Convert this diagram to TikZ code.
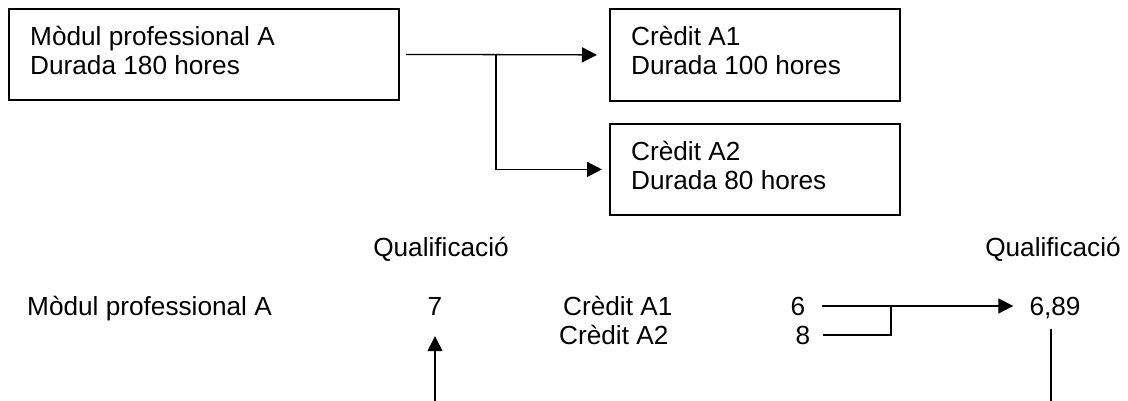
\documentclass[tikz,border=0pt]{standalone}
\usepackage{fontspec}
\setmainfont{Liberation Sans}
\usetikzlibrary{arrows.meta}
\begin{document}
\begin{tikzpicture}[x=1pt,y=-1pt,
  every node/.style={font=\fontsize{26.2}{29}\selectfont},
  box/.style={draw, line width=1.8pt, rectangle, anchor=north west, inner sep=0pt},
  boxtext/.style={inner sep=0pt, anchor=north west, align=left},
  lbl/.style={inner sep=0pt, anchor=base},
  conn/.style={line width=1.3pt},
  arr/.style={conn, -{Triangle[length=15pt,width=15pt]}}]
\useasboundingbox (0,0) rectangle (1128,401);
% boxes
\node[box, minimum width=390pt, minimum height=91pt] (b1) at (8,8) {};
\node[box, minimum width=290pt, minimum height=92pt] (a1) at (609,8) {};
\node[box, minimum width=290pt, minimum height=91pt] (a2) at (609,123) {};
\node[boxtext] (t1) at ([xshift=22pt,yshift=-18pt]b1.north west)
  {Mòdul professional A\\Durada 180 hores};
\node[boxtext] (t2) at ([xshift=22pt,yshift=-18pt]a1.north west)
  {Crèdit A1\\Durada 100 hores};
\node[boxtext] (t3) at ([xshift=22pt,yshift=-18pt]a2.north west)
  {Crèdit A2\\Durada 80 hores};
\coordinate (br) at (496,54);
\draw[arr] ([xshift=6pt]b1.east) -- ([xshift=-12pt]a1.west);
\draw[arr] (br) |- ([xshift=-7pt]a2.west);
% lower part
\node[lbl] (q1) at (441,256) {Qualificació};
\node[lbl] (q2) at (1053,256) {Qualificació};
\node[lbl, anchor=base west] (m) at (27,315) {Mòdul professional A};
\node[lbl] (v7) at (435,315) {7};
\node[lbl, anchor=base west] (c1) at (563,315) {Crèdit A1};
\node[lbl, anchor=base west] (c2) at (559,344) {Crèdit A2};
\node[lbl] (n6) at (798,315) {6};
\node[lbl] (n8) at (803,344) {8};
\node[lbl] (r) at (1055,315) {6,89};
\coordinate (j) at (891,305);
\coordinate (b7) at (435,401);
\coordinate (b689) at (1051,401);
\draw[arr] ([xshift=17pt]n6.east) -- ([xshift=-16pt]r.west |- n6.east);
\draw[conn] ([xshift=13pt]n8.east) -| (j);
\draw[arr] (b7) -- ([yshift=-21pt]v7.south);
\draw[conn] ([yshift=-10pt]b689 |- r.south) -- (b689);
\end{tikzpicture}
\end{document}
